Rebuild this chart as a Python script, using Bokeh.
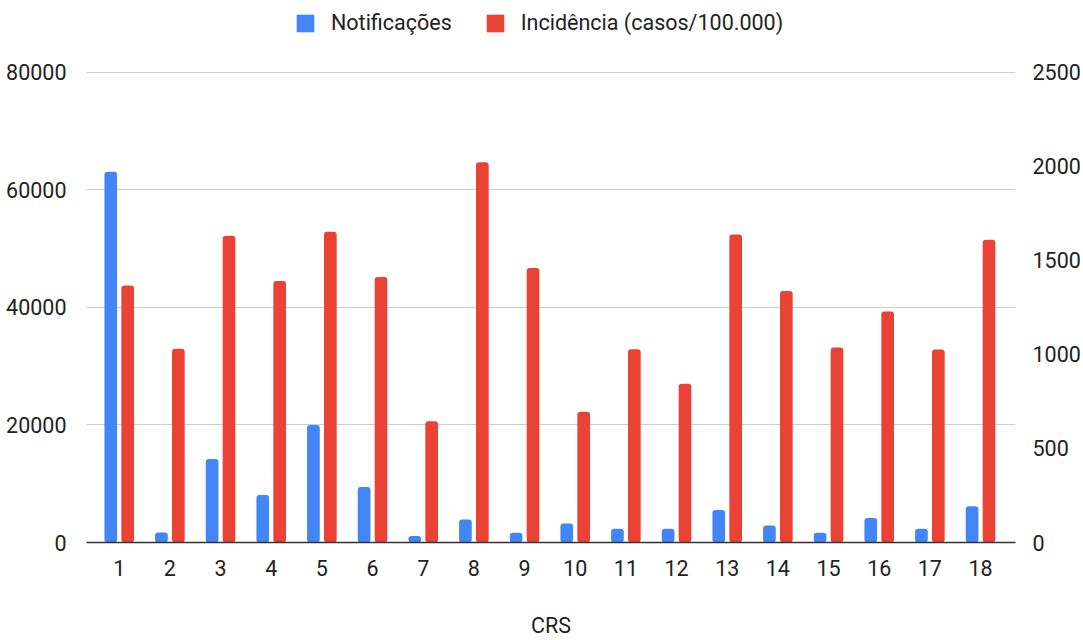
from bokeh.plotting import figure
from bokeh.models import (Range1d, LinearAxis, Legend, LegendItem, FixedTicker,
                          ColumnDataSource)
from bokeh.transform import dodge
from bokeh.embed import file_html
from bokeh.resources import INLINE

# Data per CRS (Coordenadoria Regional de Saúde)
crs = list(range(1, 19))
notificacoes = [63100, 1700, 14200, 8100, 20000, 9450, 1120, 3900, 1650,
                3230, 2330, 2330, 5540, 2890, 1650, 4190, 2330, 6170]
incidencia = [1366, 1030, 1631, 1390, 1652, 1412, 645, 2022, 1460,
              695, 1028, 844, 1638, 1338, 1037, 1228, 1026, 1610]
left_ticks = [0, 20000, 40000, 60000, 80000]
right_ticks = [0, 500, 1000, 1500, 2000, 2500]

BLUE = "#4285F4"
RED = "#EA4335"
TEXT = "#222222"
FONT = "Roboto"
FS = "21.5px"

# The frame reaches the top of the canvas so the legend row can sit inside it;
# the ranges extend past the top tick by the same ratio on both axes.
FRAME_H = 543
TICK_H = 471
LEFT_MAX = left_ticks[-1] * FRAME_H / TICK_H
RIGHT_MAX = right_ticks[-1] * FRAME_H / TICK_H

src = ColumnDataSource(dict(crs=crs, notif=notificacoes, inc=incidencia))

p = figure(width=1083, height=640, output_backend="svg", toolbar_location=None,
           x_range=Range1d(0.354, 18.69), y_range=Range1d(0, LEFT_MAX),
           min_border_left=86, min_border_right=67, min_border_top=0,
           min_border_bottom=97)
p.outline_line_color = None
p.background_fill_color = "white"
p.border_fill_color = "white"

p.extra_y_ranges = {"inc": Range1d(0, RIGHT_MAX)}

b1 = p.vbar(x=dodge("crs", -0.167), top="notif", width=0.25, source=src,
            fill_color=BLUE, line_color=None, border_radius=3)
b2 = p.vbar(x=dodge("crs", 0.167), top="inc", width=0.25, source=src,
            y_range_name="inc", fill_color=RED, line_color=None, border_radius=3)

# x axis
xa = p.xaxis[0]
xa.ticker = FixedTicker(ticks=crs)
xa.major_tick_line_color = None
xa.minor_tick_line_color = None
xa.axis_line_color = "#333333"
xa.axis_line_width = 1.5
xa.major_label_standoff = 11
xa.major_label_text_font = FONT
xa.major_label_text_font_size = FS
xa.major_label_text_color = TEXT
xa.axis_label = "CRS"
xa.axis_label_standoff = 34
xa.axis_label_text_font = FONT
xa.axis_label_text_font_size = FS
xa.axis_label_text_font_style = "normal"
xa.axis_label_text_color = TEXT

# left y axis
ya = p.yaxis[0]
ya.ticker = FixedTicker(ticks=left_ticks)
ya.axis_line_color = None
ya.major_tick_line_color = None
ya.minor_tick_line_color = None
ya.major_label_standoff = 14
ya.major_label_text_font = FONT
ya.major_label_text_font_size = FS
ya.major_label_text_color = TEXT

# right y axis
yr = LinearAxis(y_range_name="inc", ticker=FixedTicker(ticks=right_ticks))
yr.axis_line_color = None
yr.major_tick_line_color = None
yr.minor_tick_line_color = None
yr.major_label_standoff = 11
yr.major_label_text_font = FONT
yr.major_label_text_font_size = FS
yr.major_label_text_color = TEXT
p.add_layout(yr, "right")

p.xgrid.grid_line_color = None
p.ygrid.grid_line_color = "#cccccc"
p.ygrid.grid_line_width = 1
p.ygrid.ticker = FixedTicker(ticks=left_ticks[1:])

legend = Legend(items=[LegendItem(label="Notificações", renderers=[b1]),
                       LegendItem(label="Incidência (casos/100.000)", renderers=[b2])],
                orientation="horizontal", location=(208, 507),
                glyph_width=22, glyph_height=22, label_standoff=15, spacing=32,
                padding=0, margin=0, border_line_alpha=0, background_fill_alpha=0,
                label_text_font=FONT, label_text_font_size=FS,
                label_text_color=TEXT)
p.add_layout(legend)

open("out.html", "w").write(file_html(p, INLINE))
